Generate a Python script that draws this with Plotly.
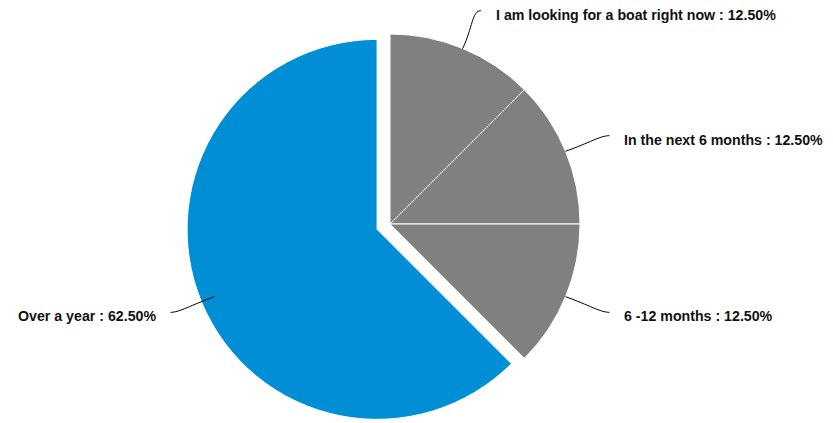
import math
import plotly.graph_objects as go

# ---- data ----
labels = ["I am looking for a boat right now", "In the next 6 months", "6 -12 months", "Over a year"]
values = [1, 1, 1, 5]
colors = ["#808080", "#808080", "#808080", "#008fd5"]
pulls = [0, 0, 0, 0.0737]

W, H = 833, 423
# desired pie centre / radius in figure pixels (page has 8px body margin)
CX, CY, RAD = 382.0, 216.0, 190.0
half = RAD * (1 + max(pulls))
dom_x = [(CX - 250) / W, (CX + 250) / W]
dom_y = [1 - (CY + half) / H, 1 - (CY - half) / H]

fig = go.Figure(go.Pie(
    labels=labels, values=values, sort=False, direction="clockwise", rotation=0,
    marker=dict(colors=colors, line=dict(color="white", width=1)),
    pull=pulls, textinfo="none", hoverinfo="label+percent", showlegend=False,
    domain=dict(x=dom_x, y=dom_y),
))

# geometry as plotly computes it (margins are zero)
box_w = W * (dom_x[1] - dom_x[0])
box_h = H * (dom_y[1] - dom_y[0])
cx = W * (dom_x[0] + dom_x[1]) / 2
cy = H * (1 - dom_y[0]) - box_h / 2
R = min(box_w, box_h) / (2 + 2 * max(pulls))


def px(x):
    return x / W


def py(y):
    return 1 - y / H


KX, KY = 1.25, 1.215
total = sum(values)
cum = 0
shapes = []
annotations = []
for lab, v in zip(labels, values):
    theta = 2 * math.pi * (cum + v / 2) / total
    cum += v
    ux, uy = math.sin(theta), -math.cos(theta)
    s = 1 if ux >= 0 else -1
    p0 = (cx + R * ux, cy + R * uy)
    p2 = (cx + KX * R * ux, cy + KY * R * uy)
    c1 = (p0[0] + 0.55 * (p2[0] - p0[0]), p0[1] + 0.55 * (p2[1] - p0[1]))
    c2 = (p2[0] - s * 9, p2[1])
    path = "M {:.5f},{:.5f} C {:.5f},{:.5f} {:.5f},{:.5f} {:.5f},{:.5f}".format(
        px(p0[0]), py(p0[1]), px(c1[0]), py(c1[1]), px(c2[0]), py(c2[1]), px(p2[0]), py(p2[1]))
    shapes.append(dict(type="path", xref="paper", yref="paper", path=path,
                       line=dict(color="black", width=1)))
    pct = v / total * 100
    annotations.append(dict(
        x=px(p2[0] + s * 13), y=py(p2[1] + 4), xref="paper", yref="paper",
        text="<b>{} : {:.2f}%</b>".format(lab, pct), showarrow=False,
        xanchor="left" if s > 0 else "right", yanchor="middle",
        font=dict(family="Liberation Sans, Arial, sans-serif", size=14.2, color="#111111"),
    ))

fig.update_layout(
    width=W, height=H,
    margin=dict(l=0, r=0, t=0, b=0),
    paper_bgcolor="white", plot_bgcolor="white",
    shapes=shapes, annotations=annotations,
)

fig.write_html("out.html")
